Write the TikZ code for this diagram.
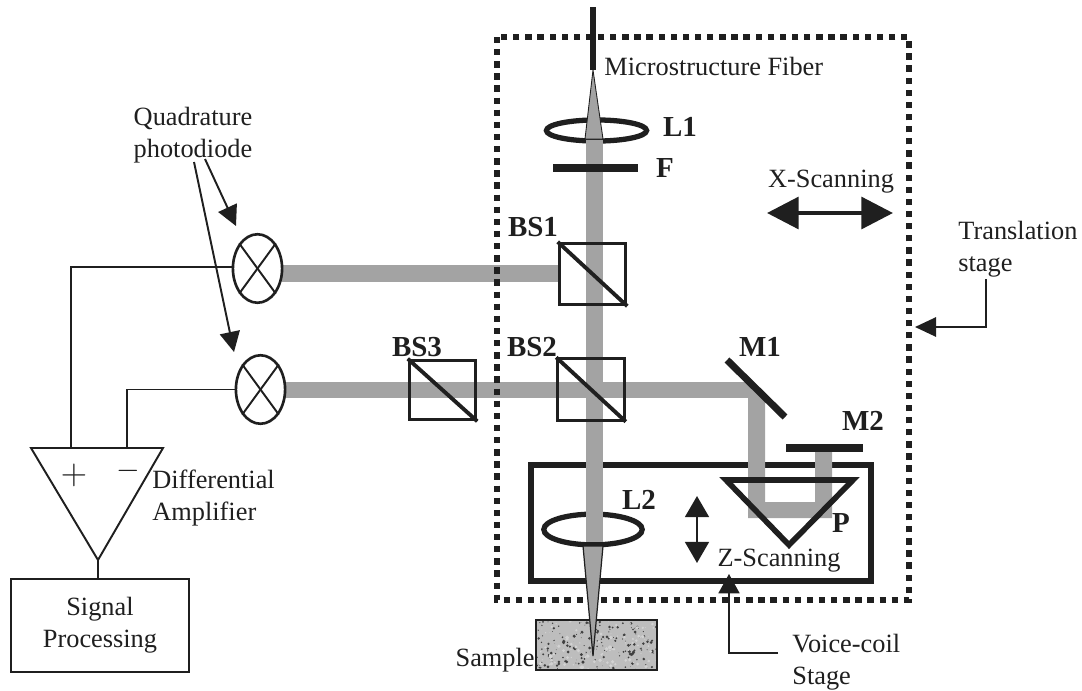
\documentclass[tikz,border=0pt]{standalone}
\usepackage{fontspec}
\setmainfont{Liberation Serif}
\usetikzlibrary{arrows.meta,shapes.geometric,calc}
\definecolor{beamgray}{gray}{0.64}
\definecolor{inkdark}{gray}{0.12}
\tikzset{
  label/.style={font=\fontsize{15}{18}\selectfont,text=inkdark,inner sep=0pt},
  boldlabel/.style={font=\fontsize{16.5}{18}\bfseries\selectfont,text=inkdark,inner sep=0pt},
  cube/.style={draw=inkdark,line width=1.6pt,minimum width=38pt,minimum height=35pt,inner sep=0pt},
  diode/.style={draw=inkdark,ellipse,line width=1.5pt,minimum width=28pt,minimum height=39pt,inner sep=0pt},
  lens/.style={draw=inkdark,ellipse,line width=3pt,inner sep=0pt},
  wire/.style={draw=inkdark,line width=1.1pt},
  optic/.style={draw=inkdark,line width=4pt},
  bighead/.style={-{Triangle[length=11.5pt,width=11.5pt]},draw=inkdark,line width=1.1pt}
}
\begin{document}
\begin{tikzpicture}[x=0.02cm,y=-0.02cm]
    \useasboundingbox (0,0) rectangle (1082,690);
    % horizontal beams go under the dotted frame
    \fill[beamgray] (282,265) rectangle (560,282);
    \fill[beamgray] (285,382) rectangle (560,398);
    \fill[beamgray] (409,382) rectangle (750,398);
    \draw[inkdark,line width=3.6pt,dash pattern=on 3.6pt off 3.3pt] (497,37) rectangle (909,600);
    \draw[inkdark,line width=3.2pt] (531,465) rectangle (871,581);
    \node[lens,minimum width=57pt,minimum height=12pt] (L1) at (596.5,130.5) {};
    \node[lens,minimum width=56pt,minimum height=17.5pt] (L2) at (593,529.5) {};
    % vertical beam and the folded arm
    \fill[beamgray] (586,140) rectangle (603,542);
    \fill[beamgray] (750,382) -- (765,397) -- (765,502) -- (815,502) -- (815,452) -- (832,452)
      -- (832,518) -- (748,518) -- (748,382) -- cycle;
    \draw[inkdark,fill=beamgray,line width=.5pt] (593,70) -- (603,139) -- (585,139) -- cycle;
    % sample
    \fill[gray!52] (536,620) rectangle (657,670);
    \begin{scope}
      \clip (536,620) rectangle (657,670);
      \pgfmathsetseed{7}
      \foreach \i in {1,...,190}{
        \fill[gray!50!black] (536+121*rnd,620+50*rnd) circle ({1.7*rnd});
      }
      \foreach \i in {1,...,110}{
        \fill[gray!35] (536+121*rnd,620+50*rnd) circle ({2*rnd});
      }
    \end{scope}
    \draw[inkdark,line width=.8pt] (536,620) rectangle (657,670);
    \draw[inkdark,fill=beamgray,line width=.7pt] (583,546) -- (603,546) -- (593,656) -- cycle;
    \draw[inkdark,line width=3.6pt] (593,7) -- (593,70);
    \draw[optic] (553,168) -- (638,168);
    % beam splitters
    \node[cube] (BS1) at (592.5,274) {};
    \node[cube] (BS2) at (591,389.5) {};
    \node[cube,minimum height=34pt] (BS3) at (442.5,390) {};
    \foreach \c in {BS1,BS2,BS3}
      \draw[inkdark,line width=2.2pt] (\c.north west) -- (\c.south east);
    % mirrors and prism
    \draw[optic] (727,360) -- (785,417);
    \draw[optic] (786,448) -- (863,448);
    \draw[inkdark,line width=3.2pt,line join=miter] (726,480) -- (853,480) -- (789,545) -- cycle;
    % detectors
    \node[diode] (PD1) at (257.5,268.5) {};
    \node[diode] (PD2) at (260.5,389.5) {};
    \foreach \c in {PD1,PD2}{
      \draw[wire] (\c.north west) -- (\c.south east);
      \draw[wire] (\c.north east) -- (\c.south west);
    }
    % amplifier
    \coordinate (APlus) at (71,448);
    \coordinate (AMinus) at (127,448);
    \coordinate (ATip) at (98,560);
    \draw[wire] (31,448) -- (163,448) -- (ATip) -- cycle;
    \node[draw=inkdark,line width=1.1pt,minimum width=101pt,minimum height=52.7pt,inner sep=0pt] (SP) at (100,625.5) {};
    \draw[wire] (PD1.176) -| (APlus);
    \draw[wire] (PD2.180) -| (AMinus);
    \draw[wire] (ATip) -- (SP.north -| ATip);
    \node[font=\fontsize{20}{20}\selectfont,text=inkdark,inner sep=0pt] (Plus) at (74,475) {$+$};
    \node[font=\fontsize{17}{17}\selectfont,text=inkdark,inner sep=0pt] (Minus) at (128,471) {$-$};
    % scan arrows
    \coordinate (XL) at (767,213);
    \coordinate (XR) at (893,213);
    \draw[{Triangle[length=18pt,width=18pt]}-{Triangle[length=18pt,width=18pt]},draw=inkdark,line width=2.4pt] (XL) -- (XR);
    \coordinate (ZT) at (697,496);
    \coordinate (ZB) at (697,563);
    \draw[{Triangle[length=12pt,width=13.5pt]}-{Triangle[length=12pt,width=13.5pt]},draw=inkdark,line width=1.5pt] (ZT) -- (ZB);
    % labels
    \node[label,anchor=west] (Fiber) at (604,66) {Microstructure Fiber};
    \node[boldlabel] (TL1) at (680,127) {L1};
    \node[boldlabel] (TF) at (665,168) {F};
    \node[label] (TX) at (831,182) {X-Scanning};
    \node[boldlabel] (TBS1) at (533,227) {BS1};
    \node[boldlabel] (TBS2) at (532,347) {BS2};
    \node[boldlabel] (TBS3) at (417,347) {BS3};
    \node[boldlabel] (TM1) at (760,347) {M1};
    \node[boldlabel] (TM2) at (863,421) {M2};
    \node[boldlabel] (TP) at (841,523) {P};
    \node[boldlabel] (TL2) at (639,500) {L2};
    \node[label] (TZ) at (779,561) {Z-Scanning};
    \node[label,anchor=east] (TSample) at (535,660) {Sample};
    \node[label,align=left,anchor=west] (TVoice) at (792,662) {Voice-coil\\Stage};
    \node[label,align=left,anchor=west] (TTrans) at (958,249) {Translation\\stage};
    \node[label,align=center] (TQuad) at (193,135) {Quadrature\\photodiode};
    \node[label,align=left,anchor=west] (TDiff) at (152,498) {Differential\\Amplifier};
    \node[label,align=center] (TSig) at (100,625) {Signal\\Processing};
    % pointers
    \coordinate (Q1) at (205,159);
    \coordinate (Q2) at (194,162);
    \coordinate (Q1T) at (236,226);
    \coordinate (Q2T) at (234,352);
    \draw[bighead] (Q1) -- (Q1T);
    \draw[bighead] (Q2) -- (Q2T);
    \coordinate (VA) at (778,653);
    \coordinate (VB) at (729,574);
    \draw[-{Triangle[length=11pt,width=12pt]},draw=inkdark,line width=.9pt] (VA) -| (VB);
    \coordinate (TA) at (986,279);
    \coordinate (TB) at (915,327);
    \draw[-{Triangle[length=12pt,width=11pt]},draw=inkdark,line width=1.1pt] (TA) |- (TB);
\end{tikzpicture}
\end{document}
